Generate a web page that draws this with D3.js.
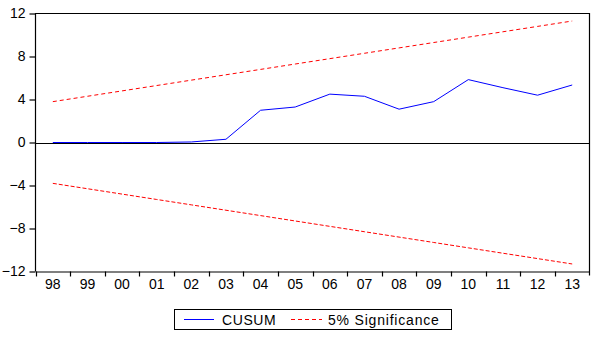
<!DOCTYPE html>
<html>
<head>
<meta charset="utf-8">
<script src="https://cdn.jsdelivr.net/npm/d3@7"></script>
<style>
  body { margin: 0; background: #fff; }
  svg text { font-family: "Liberation Sans", Arial, sans-serif; fill: #000; }
</style>
</head>
<body>
<div id="chart"></div>
<script>
// years on the x axis
var years = ["98", "99", "00", "01", "02", "03", "04", "05", "06", "07", "08", "09", "10", "11", "12", "13"];
var cusum = [0, 0, 0, 0, 0.05, 0.3, 3.0, 3.3, 4.5, 4.3, 3.1, 3.8, 5.85, 5.1, 4.4, 5.35];
var upper = [3.8, 4.3, 4.8, 5.3, 5.8, 6.3, 6.8, 7.3, 7.8, 8.3, 8.8, 9.3, 9.8, 10.3, 10.8, 11.3];
var lower = [-3.8, -4.3, -4.8, -5.3, -5.8, -6.3, -6.8, -7.3, -7.8, -8.3, -8.8, -9.3, -9.8, -10.3, -10.8, -11.3];
var yTicks = [-12, -8, -4, 0, 4, 8, 12];

var width = 597, height = 337;
var mLeft = 35.5, mRight = 589.5, mTop = 13.5, mBottom = 271.5;

var svg = d3.select("#chart").append("svg")
    .attr("width", width)
    .attr("height", height);

var x = d3.scaleBand().domain(years).range([mLeft, mRight]).padding(0);
var y = d3.scaleLinear().domain([-12, 12]).range([mBottom, mTop]);

// frame (left, top, right)
svg.append("path")
    .attr("d", "M" + mLeft + "," + mBottom + "V" + mTop + "H" + mRight + "V" + (mBottom + 4))
    .attr("fill", "none")
    .attr("stroke", "#000")
    .attr("stroke-width", 1.2);

// y axis
var yAxis = svg.append("g")
    .attr("transform", "translate(" + mLeft + ",0)")
    .call(d3.axisLeft(y).tickValues(yTicks).tickSize(6).tickPadding(4));
yAxis.select(".domain").remove();
yAxis.selectAll("line").attr("stroke", "#000").attr("stroke-width", 1.2);
yAxis.selectAll("text").style("font-size", "14px").style("font-family", "Liberation Sans, Arial, sans-serif");

// x axis
var xAxis = svg.append("g")
    .attr("transform", "translate(0," + mBottom + ")")
    .call(d3.axisBottom(x).tickSize(0).tickPadding(8));
xAxis.select(".domain").attr("stroke", "#000").attr("stroke-width", 1.2);
xAxis.selectAll("text").style("font-size", "14px").style("font-family", "Liberation Sans, Arial, sans-serif");

// x tick marks between categories
svg.append("g")
    .selectAll("line")
    .data(years)
    .enter()
    .append("line")
    .attr("x1", function (d) { return Math.round(x(d)) + 0.5; })
    .attr("x2", function (d) { return Math.round(x(d)) + 0.5; })
    .attr("y1", mBottom)
    .attr("y2", mBottom + 5)
    .attr("stroke", "#000")
    .attr("stroke-width", 1.2);

// zero line
svg.append("line")
    .attr("x1", mLeft)
    .attr("x2", mRight)
    .attr("y1", Math.round(y(0)) + 0.5)
    .attr("y2", Math.round(y(0)) + 0.5)
    .attr("stroke", "#000")
    .attr("stroke-width", 1.2);

var line = d3.line()
    .x(function (d, i) { return x(years[i]) + x.bandwidth() / 2; })
    .y(function (d) { return y(d); });

svg.append("path")
    .datum(upper)
    .attr("d", line)
    .attr("fill", "none")
    .attr("stroke", "#ff0000")
    .attr("stroke-width", 1)
    .attr("stroke-dasharray", "4,3");

svg.append("path")
    .datum(lower)
    .attr("d", line)
    .attr("fill", "none")
    .attr("stroke", "#ff0000")
    .attr("stroke-width", 1)
    .attr("stroke-dasharray", "4,2");

svg.append("path")
    .datum(cusum)
    .attr("d", line)
    .attr("fill", "none")
    .attr("stroke", "#0000ff")
    .attr("stroke-width", 1);

// legend
var legend = svg.append("g");
legend.append("rect")
    .attr("x", 174.5).attr("y", 309.5)
    .attr("width", 277).attr("height", 20)
    .attr("fill", "#fff")
    .attr("stroke", "#000")
    .attr("stroke-width", 1);
legend.append("line")
    .attr("x1", 184).attr("x2", 214).attr("y1", 319.5).attr("y2", 319.5)
    .attr("stroke", "#0000ff").attr("stroke-width", 1);
legend.append("text")
    .attr("x", 222).attr("y", 324.5)
    .style("font-size", "14px")
    .style("letter-spacing", "0.6px")
    .text("CUSUM");
legend.append("line")
    .attr("x1", 291).attr("x2", 322).attr("y1", 319.5).attr("y2", 319.5)
    .attr("stroke", "#ff0000").attr("stroke-width", 1)
    .attr("stroke-dasharray", "4,3");
legend.append("text")
    .attr("x", 328).attr("y", 324.5)
    .style("font-size", "14px")
    .style("letter-spacing", "0.8px")
    .text("5% Significance");
</script>
</body>
</html>
